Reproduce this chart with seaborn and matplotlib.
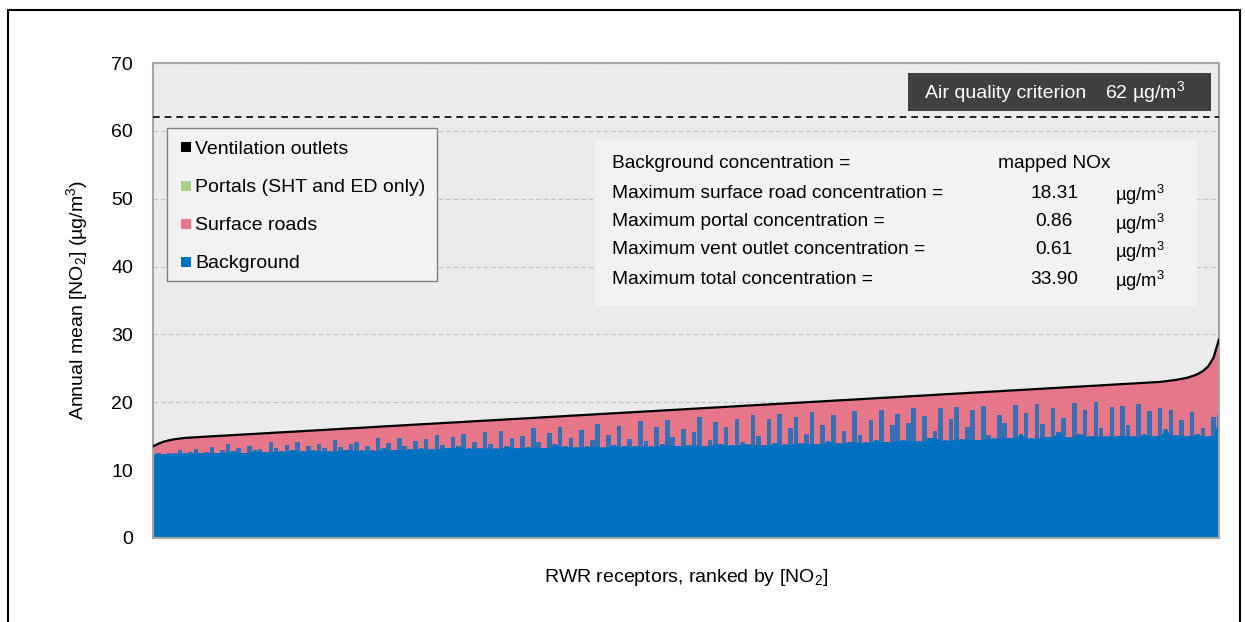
import numpy as np
import pandas as pd
import matplotlib
matplotlib.use("Agg")
import matplotlib.pyplot as plt
from matplotlib.patches import Rectangle
import seaborn as sns

# ---------------- data ----------------
total_no2 = [
    13.50, 13.90, 14.20, 14.40, 14.55, 14.65, 14.75, 14.80, 14.85, 14.90,
    14.94, 14.99, 15.03, 15.08, 15.12, 15.17, 15.21, 15.26, 15.30, 15.35,
    15.39, 15.44, 15.48, 15.53, 15.57, 15.62, 15.66, 15.71, 15.75, 15.80,
    15.84, 15.89, 15.93, 15.98, 16.03, 16.07, 16.12, 16.16, 16.21, 16.25,
    16.30, 16.35, 16.39, 16.44, 16.48, 16.53, 16.57, 16.62, 16.66, 16.71,
    16.75, 16.80, 16.84, 16.89, 16.93, 16.98, 17.02, 17.07, 17.11, 17.16,
    17.20, 17.25, 17.29, 17.34, 17.38, 17.43, 17.47, 17.52, 17.56, 17.61,
    17.65, 17.70, 17.74, 17.79, 17.83, 17.88, 17.93, 17.97, 18.02, 18.06,
    18.11, 18.15, 18.20, 18.24, 18.29, 18.33, 18.38, 18.42, 18.47, 18.51,
    18.56, 18.60, 18.65, 18.69, 18.74, 18.78, 18.83, 18.87, 18.92, 18.96,
    19.01, 19.06, 19.10, 19.15, 19.19, 19.24, 19.28, 19.33, 19.37, 19.42,
    19.47, 19.51, 19.56, 19.60, 19.65, 19.69, 19.74, 19.78, 19.83, 19.87,
    19.92, 19.96, 20.01, 20.05, 20.10, 20.14, 20.19, 20.23, 20.28, 20.32,
    20.37, 20.41, 20.46, 20.50, 20.55, 20.60, 20.64, 20.69, 20.73, 20.78,
    20.82, 20.87, 20.91, 20.96, 21.00, 21.05, 21.09, 21.14, 21.19, 21.23,
    21.28, 21.32, 21.37, 21.41, 21.46, 21.50, 21.55, 21.59, 21.64, 21.68,
    21.73, 21.77, 21.82, 21.86, 21.91, 21.95, 22.00, 22.05, 22.09, 22.14,
    22.18, 22.23, 22.27, 22.32, 22.36, 22.41, 22.45, 22.50, 22.54, 22.59,
    22.64, 22.68, 22.73, 22.77, 22.82, 22.86, 22.91, 22.96, 23.00, 23.10,
    23.20, 23.30, 23.45, 23.60, 23.85, 24.15, 24.60, 25.30, 26.60, 29.30,
]

background_no2 = [
    12.4, 12.5, 12.4, 12.6, 12.5, 12.9, 12.5, 12.7, 13.1, 12.6,
    12.7, 13.4, 12.6, 13.0, 13.8, 12.8, 13.2, 12.6, 13.6, 12.9,
    13.1, 12.7, 14.1, 13.3, 12.8, 13.7, 13.0, 14.2, 12.8, 13.5,
    12.9, 13.9, 13.2, 12.8, 14.4, 13.4, 13.0, 13.8, 14.2, 12.9,
    13.6, 12.9, 14.7, 13.2, 14.0, 13.0, 14.8, 13.5, 13.1, 14.3,
    13.2, 14.6, 13.1, 15.2, 13.7, 13.3, 14.9, 13.5, 15.3, 13.2,
    14.2, 13.3, 15.6, 13.9, 13.2, 15.8, 13.6, 14.7, 13.3, 15.1,
    13.4, 16.2, 14.1, 13.3, 15.5, 13.8, 16.3, 13.5, 14.8, 13.4,
    15.9, 13.5, 14.4, 16.8, 13.4, 15.2, 13.7, 16.5, 13.5, 14.6,
    13.6, 17.2, 14.3, 13.5, 16.4, 13.8, 17.4, 14.9, 13.6, 16.0,
    13.7, 15.6, 17.8, 13.6, 14.5, 17.1, 13.9, 16.3, 13.7, 17.6,
    14.2, 13.8, 18.2, 15.1, 13.7, 17.5, 14.0, 18.3, 13.8, 16.2,
    17.9, 14.0, 15.4, 18.6, 13.9, 16.7, 14.3, 18.1, 14.0, 15.8,
    14.2, 18.7, 15.2, 14.1, 17.4, 14.5, 18.9, 14.2, 16.6, 18.3,
    14.4, 16.9, 19.1, 14.3, 18.0, 14.8, 15.7, 19.2, 14.4, 17.6,
    19.3, 14.6, 16.4, 18.8, 14.5, 19.5, 15.2, 14.7, 18.2, 16.9,
    14.8, 19.6, 15.3, 18.4, 14.7, 19.8, 16.8, 14.9, 19.1, 15.6,
    17.7, 14.9, 19.9, 15.4, 18.9, 15.0, 20.0, 16.2, 15.0, 19.3,
    15.1, 19.5, 16.6, 15.0, 19.8, 15.3, 18.7, 15.1, 19.2, 16.0,
    18.9, 15.2, 17.4, 15.1, 18.6, 15.3, 16.2, 15.0, 17.8, 18.2,
]

legend_labels = ["Ventilation outlets", "Portals (SHT and ED only)", "Surface roads", "Background"]
legend_colors = ["#000000", "#A9D18E", "#E57788", "#0070C0"]

criterion = 62
info_labels = ["Background concentration =",
               "Maximum surface road concentration =",
               "Maximum portal concentration =",
               "Maximum vent outlet concentration =",
               "Maximum total concentration ="]
info_values = ["mapped NOx", "18.31", "0.86", "0.61", "33.90"]
info_units = ["", "µg/m$^3$", "µg/m$^3$", "µg/m$^3$", "µg/m$^3$"]
yticks = [0, 10, 20, 30, 40, 50, 60, 70]

# ---------------- styling ----------------
sns.set_theme(style="white")
plt.rcParams["font.family"] = ["Liberation Sans", "DejaVu Sans"]
plt.rcParams["mathtext.fontset"] = "custom"
plt.rcParams["mathtext.rm"] = "Liberation Sans"
plt.rcParams["mathtext.it"] = "Liberation Sans"
plt.rcParams["mathtext.default"] = "regular"

df = pd.DataFrame({"rank": np.arange(len(total_no2)),
                   "total": total_no2,
                   "background": background_no2})
# solid lower envelope of the background (where the blue is continuous)
df["bg_base"] = df["background"].rolling(3, center=True, min_periods=1).min()

fig = plt.figure(figsize=(12.45, 6.22), dpi=100)
fig.patch.set_facecolor("white")
ax = fig.add_axes([153 / 1245, 1 - 538 / 622, (1219 - 153) / 1245, (538 - 63) / 622])
ax.set_facecolor("#EBEBEB")

# outer frame
fig.add_artist(Rectangle((8 / 1245, -0.05), (1240 - 8) / 1245, 1 - 10 / 622 + 0.05,
                         transform=fig.transFigure, fill=False, edgecolor="black",
                         linewidth=1.5))

# surface roads (pink) up to total, background (blue) on top of it
ax.fill_between(df["rank"], 0, df["total"], color=legend_colors[2], linewidth=0, zorder=2)
ax.bar(df["rank"], df["background"], width=0.85, color="#3570B4", linewidth=0,
       zorder=2.1)
ax.fill_between(df["rank"], 0, df["bg_base"], color=legend_colors[3], linewidth=0, zorder=2.2)
sns.lineplot(data=df, x="rank", y="total", color="black", linewidth=1.6, ax=ax,
             zorder=3)

ax.axhline(criterion, color="black", linestyle=(0, (4, 3)), linewidth=1.2, zorder=3)

ax.set_xlim(0, len(total_no2) - 1)
ax.set_ylim(0, 70)
ax.set_yticks(yticks)
ax.set_xticks([])
ax.tick_params(axis="y", labelsize=14, length=0, pad=14.4, colors="black")
ax.yaxis.grid(True, color="#C6C6C6", linestyle=(0, (4, 2)), linewidth=0.9)
ax.set_axisbelow(True)
for s in ax.spines.values():
    s.set_color("#A6A6A6")
    s.set_linewidth(1.5)

ax.set_xlabel("RWR receptors, ranked by [NO$_2$]", fontsize=14, labelpad=21, color="black")
ax.set_ylabel("Annual mean [NO$_2$] (µg/m$^3$)", fontsize=14, labelpad=15, color="black")

def ax_x(px):
    return (px - 153) / 1066

def ax_y(py):
    return (538 - py) / 475

# legend box (drawn as a key panel)
ax.add_patch(Rectangle((ax_x(167), ax_y(281)), ax_x(437) - ax_x(167), ax_y(128) - ax_y(281),
                       transform=ax.transAxes, facecolor="#F2F2F2", edgecolor="#7F7F7F",
                       linewidth=1.0, zorder=6))
for lab, col, py in zip(legend_labels, legend_colors, [147, 186, 224, 262]):
    ax.add_patch(Rectangle((ax_x(181), ax_y(py + 5)), ax_x(191) - ax_x(181),
                           ax_y(py - 5) - ax_y(py + 5), transform=ax.transAxes,
                           facecolor=col, edgecolor="none", zorder=7))
    ax.text(ax_x(195), ax_y(py + 2), lab, transform=ax.transAxes, fontsize=14,
            va="center", ha="left", zorder=7, color="black")

# criterion box
ax.add_patch(Rectangle((ax_x(908), ax_y(111)), ax_x(1211) - ax_x(908), ax_y(73) - ax_y(111),
                       transform=ax.transAxes, facecolor="#404040", edgecolor="none", zorder=6))
ax.text(ax_x(925), ax_y(93), "Air quality criterion", transform=ax.transAxes,
        color="white", fontsize=14, va="center", ha="left", zorder=7)
ax.text(ax_x(1105), ax_y(92), f"{criterion} µg/m$^3$", transform=ax.transAxes,
        color="white", fontsize=14, va="center", ha="left", zorder=7)

# info box
ax.add_patch(Rectangle((ax_x(595), ax_y(306)), ax_x(1197) - ax_x(595), ax_y(140) - ax_y(306),
                       transform=ax.transAxes, facecolor="#F2F2F2", edgecolor="none", zorder=6))
rows_y = [162, 191, 220, 248, 277]
for lab, val, unit, py in zip(info_labels, info_values, info_units, rows_y):
    ax.text(ax_x(612), ax_y(py + 2), lab, transform=ax.transAxes, fontsize=13.8,
            va="center", ha="left", zorder=7, color="black")
    ax.text(ax_x(1054), ax_y(py + 2), val, transform=ax.transAxes, fontsize=13.8,
            va="center", ha="center", zorder=7, color="black")
    if unit:
        ax.text(ax_x(1115), ax_y(py + 4), unit, transform=ax.transAxes, fontsize=13.2,
                va="center", ha="left", zorder=7, color="black")

fig.savefig("out.png", dpi=100)
